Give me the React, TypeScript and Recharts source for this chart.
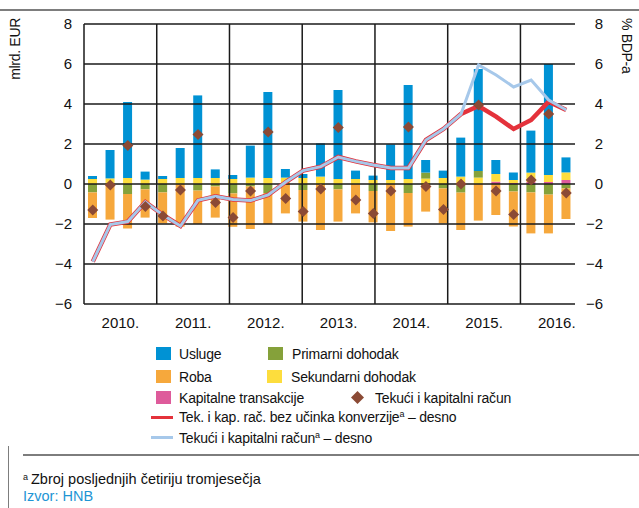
import { ComposedChart, Bar, Line, XAxis, YAxis, ReferenceLine } from 'recharts'

const years = ['2010', '2011', '2012', '2013', '2014', '2015', '2016']
const quarters = years.flatMap((y) => ['I', 'II', 'III', 'IV'].map((q) => `${q}/${y}`))

// mlrd. EUR, po tromjesečjima
const usluge = [
  0.15, 1.42, 3.8, 0.4,
  0.15, 1.5, 4.13, 0.43,
  0.2, 1.6, 4.3, 0.43,
  0.2, 1.66, 4.45, 0.42,
  0.22, 1.78, 4.7, 0.63,
  0.37, 1.95, 5.1, 0.7,
  0.38, 2.1, 5.55, 0.75,
]
const roba = [
  -1.28, -1.78, -1.73, -1.41,
  -1.55, -2.13, -1.67, -1.56,
  -1.67, -2.13, -1.55, -1.47,
  -1.58, -2.3, -1.61, -1.47,
  -1.57, -2.35, -1.68, -1.38,
  -1.75, -1.87, -1.83, -1.55,
  -1.75, -2.05, -1.94, -1.53,
]
const primarni = [
  -0.42, 0, -0.5, -0.27,
  -0.42, 0, -0.33, -0.12,
  -0.47, -0.12, -0.45, 0,
  -0.3, 0, -0.27, 0,
  -0.35, 0, -0.45, 0.3,
  -0.22, -0.43, 0.33, 0,
  -0.38, -0.42, -0.53, -0.22,
]
const sekundarni = [
  0.25, 0.28, 0.3, 0.22,
  0.25, 0.3, 0.3, 0.3,
  0.25, 0.32, 0.3, 0.32,
  0.3, 0.37, 0.25, 0.25,
  0.2, 0.2, 0.25, 0.27,
  0.3, 0.37, 0.32, 0.38,
  0.15, 0.47, 0.35, 0.38,
]
const kapitalne = [
  0, 0, 0, 0,
  0, 0, 0, 0,
  0, 0, 0, 0,
  0, 0, 0, 0,
  0, 0, 0, 0,
  0, 0, 0, 0.12,
  0.05, 0.1, 0.1, 0.2,
]
const racun = [
  -1.3, -0.05, 1.92, -1.13,
  -1.6, -0.3, 2.47, -0.93,
  -1.68, -0.35, 2.6, -0.72,
  -1.38, -0.25, 2.83, -0.8,
  -1.47, -0.35, 2.85, -0.13,
  -1.27, 0.0, 3.95, -0.35,
  -1.52, 0.2, 3.5, -0.45,
]
// % BDP-a, zbroj posljednjih četiriju tromjesečja
const racunBdp = [
  -3.88, -2.03, -1.88, -0.9,
  -1.55, -2.1, -0.82, -0.62,
  -0.77, -0.83, -0.55, 0.1,
  0.67, 0.87, 1.35, 1.13,
  0.95, 0.8, 0.8, 2.2,
  2.75, 3.5, 5.95, 5.45,
  4.85, 5.2, 4.2, 3.7,
]
const bezKonverzije = [
  -3.88, -2.03, -1.88, -0.9,
  -1.55, -2.1, -0.82, -0.62,
  -0.77, -0.83, -0.55, 0.1,
  0.67, 0.87, 1.35, 1.13,
  0.95, 0.8, 0.8, 2.2,
  2.75, 3.5, 3.9, 3.37,
  2.75, 3.2, 4.12, 3.7,
]

const yTicks = [-6, -4, -2, 0, 2, 4, 6, 8]

const data = quarters.map((q, i) => ({
  q,
  usluge: usluge[i],
  roba: roba[i],
  primarni: primarni[i],
  sekundarni: sekundarni[i],
  kapitalne: kapitalne[i],
  racun: racun[i],
  racunBdp: racunBdp[i],
  bezKonverzije: bezKonverzije[i],
}))

const yearTicks = years.map((_, i) => i * 4 + 2)
const yearLines = years.map((_, i) => i * 4).concat(years.length * 4)

const C = {
  usluge: '#0092d4',
  roba: '#f6a83c',
  primarni: '#85a13a',
  sekundarni: '#fddd3d',
  kapitalne: '#de5b9b',
  racun: '#8b4a35',
  red: '#e4323b',
  lightBlue: '#a6c8ea',
  grid: '#1a1a1a',
}

const sans = '"Liberation Sans", Arial, sans-serif'
const tickFont = { fontFamily: sans, fontSize: 15, fill: '#111' }
const fmt = (v: number) => String(v).replace('-', '\u2212')

const Diamond = (props: any) => {
  const { cx, cy, index } = props
  if (cx == null || cy == null) return <g key={`d-${index}`} />
  const r = 5.5
  return (
    <path
      key={`d-${index}`}
      d={`M${cx},${cy - r}L${cx + r},${cy}L${cx},${cy + r}L${cx - r},${cy}Z`}
      fill={C.racun}
    />
  )
}

const RightTick = (props: any) => {
  const { x, y, payload } = props
  return (
    <text x={x + 28} y={y} dy="0.36em" textAnchor="end" {...tickFont}>
      {fmt(payload.value)}
    </text>
  )
}

const Square = ({ color, left, top }: { color: string; left: number; top: number }) => (
  <div style={{ position: 'absolute', left, top, width: 15, height: 13, background: color }} />
)

const LegendText = ({ left, top, children }: { left: number; top: number; children: any }) => (
  <div
    style={{
      position: 'absolute',
      left,
      top,
      fontFamily: sans,
      fontSize: 14,
      lineHeight: '18px',
      color: '#111',
      whiteSpace: 'nowrap',
      letterSpacing: -0.2,
    }}
  >
    {children}
  </div>
)

const Sup = () => <span style={{ fontSize: 9, verticalAlign: 'top', lineHeight: '12px' }}>a</span>

const App = () => {
  return (
    <div style={{ position: 'absolute', left: 0, top: 0, width: 639, height: 508, background: '#fff' }}>
      <div style={{ position: 'absolute', left: 0, top: 9, width: 639, height: 1.5, background: '#7d7d7d' }} />

      <ComposedChart
        width={639}
        height={340}
        data={data}
        stackOffset="sign"
        margin={{ top: 24, right: 0, bottom: 6, left: 0 }}
        barSize={9}
      >
        <XAxis dataKey="q" hide height={0} />
        <XAxis
          xAxisId="years"
          type="number"
          domain={[0, years.length * 4]}
          allowDataOverflow
          ticks={yearTicks}
          tickFormatter={(v: number) => `${years[(v - 2) / 4]}.`}
          tickLine={false}
          axisLine={false}
          tickSize={0}
          tickMargin={13}
          height={30}
          tick={tickFont}
        />
        <YAxis
          yAxisId="left"
          width={84}
          domain={[-6, 8]}
          ticks={yTicks}
          tickFormatter={fmt}
          tickLine={false}
          axisLine={false}
          tickSize={0}
          tickMargin={12}
          tick={tickFont}
          label={() => (
            <text
              x={15}
              y={18}
              transform="rotate(-90 15 18)"
              textAnchor="end"
              dy="0.35em"
              fontFamily={sans}
              fontSize={14}
              letterSpacing={-0.3}
              fill="#111"
            >
              mlrd. EUR
            </text>
          )}
        />
        <YAxis
          yAxisId="right"
          orientation="right"
          width={64}
          domain={[-6, 8]}
          ticks={yTicks}
          tickLine={false}
          axisLine={false}
          tickSize={0}
          tickMargin={0}
          tick={<RightTick />}
          label={() => (
            <text
              x={627}
              y={18}
              transform="rotate(90 627 18)"
              textAnchor="start"
              dy="0.35em"
              fontFamily={sans}
              fontSize={14}
              letterSpacing={-0.3}
              fill="#111"
            >
              % BDP-a
            </text>
          )}
        />

        <Bar yAxisId="left" dataKey="kapitalne" stackId="a" fill={C.kapitalne} isAnimationActive={false} />
        <Bar yAxisId="left" dataKey="sekundarni" stackId="a" fill={C.sekundarni} isAnimationActive={false} />
        <Bar yAxisId="left" dataKey="primarni" stackId="a" fill={C.primarni} isAnimationActive={false} />
        <Bar yAxisId="left" dataKey="usluge" stackId="a" fill={C.usluge} isAnimationActive={false} />
        <Bar yAxisId="left" dataKey="roba" stackId="a" fill={C.roba} isAnimationActive={false} />

        {yTicks.map((t) => (
          <ReferenceLine key={`h${t}`} yAxisId="left" y={t} stroke={C.grid} strokeWidth={1.5} />
        ))}
        {yearLines.map((x) => (
          <ReferenceLine key={`v${x}`} xAxisId="years" yAxisId="left" x={x} stroke={C.grid} strokeWidth={1.5} />
        ))}

        <Line
          yAxisId="left"
          dataKey="racun"
          stroke="none"
          dot={Diamond}
          activeDot={false}
          isAnimationActive={false}
        />
        <Line
          yAxisId="right"
          dataKey="bezKonverzije"
          stroke={C.red}
          strokeWidth={4.5}
          dot={false}
          activeDot={false}
          isAnimationActive={false}
        />
        <Line
          yAxisId="right"
          dataKey="racunBdp"
          stroke={C.lightBlue}
          strokeWidth={3}
          dot={false}
          activeDot={false}
          isAnimationActive={false}
        />
      </ComposedChart>

      {/* legenda */}
      <Square color={C.usluge} left={156} top={347} />
      <LegendText left={179} top={345}>Usluge</LegendText>
      <Square color={C.primarni} left={268} top={347} />
      <LegendText left={292} top={345}>Primarni dohodak</LegendText>

      <Square color={C.roba} left={156} top={370} />
      <LegendText left={179} top={368}>Roba</LegendText>
      <Square color={C.sekundarni} left={267} top={370} />
      <LegendText left={291} top={368}>Sekundarni dohodak</LegendText>

      <Square color={C.kapitalne} left={156} top={391} />
      <LegendText left={179} top={389}>Kapitalne transakcije</LegendText>
      <svg style={{ position: 'absolute', left: 350, top: 390 }} width={15} height={15}>
        <path d="M7.5,1L14,7.5L7.5,14L1,7.5Z" fill={C.racun} />
      </svg>
      <LegendText left={375} top={389}>Tekući i kapitalni račun</LegendText>

      <div style={{ position: 'absolute', left: 151, top: 415.5, width: 22, height: 3, background: C.red }} />
      <LegendText left={179} top={408}>
        Tek. i kap. rač. bez učinka konverzije<Sup /> – desno
      </LegendText>

      <div style={{ position: 'absolute', left: 151, top: 436, width: 22, height: 3, background: C.lightBlue }} />
      <LegendText left={179} top={428.5}>
        Tekući i kapitalni račun<Sup /> – desno
      </LegendText>

      {/* okvir i bilješke */}
      <div style={{ position: 'absolute', left: 23, top: 454, width: 616, height: 1.5, background: '#7d7d7d' }} />
      <div style={{ position: 'absolute', left: 7.5, top: 446, width: 1.5, height: 62, background: '#7d7d7d' }} />
      <div
        style={{
          position: 'absolute',
          left: 23,
          top: 471,
          fontFamily: sans,
          fontSize: 14.5,
          lineHeight: '17px',
          color: '#111',
          whiteSpace: 'nowrap',
        }}
      >
        <span style={{ fontSize: 9, verticalAlign: 'top', lineHeight: '12px', marginRight: 3 }}>a</span>
        Zbroj posljednjih četiriju tromjesečja
      </div>
      <div
        style={{
          position: 'absolute',
          left: 23,
          top: 488,
          fontFamily: sans,
          fontSize: 14.5,
          lineHeight: '17px',
          color: '#1e95d4',
          whiteSpace: 'nowrap',
        }}
      >
        Izvor: HNB
      </div>
    </div>
  )
}

export default App
